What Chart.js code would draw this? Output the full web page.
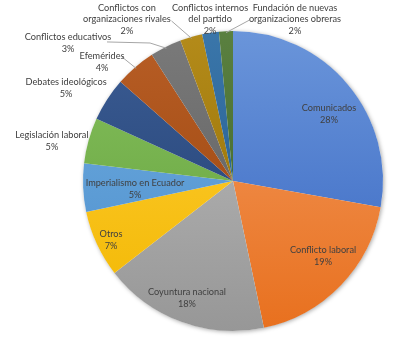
<!DOCTYPE html>
<html>
<head>
<meta charset="utf-8">
<script src="https://cdn.jsdelivr.net/npm/chart.js@4/dist/chart.umd.min.js"></script>
<style>
  html, body { margin: 0; padding: 0; background: #fff; }
  #wrap { width: 413px; height: 362px; position: relative; }
</style>
</head>
<body>
<div id="wrap"><canvas id="pie-chart"></canvas></div>
<script>
// categories, share of items (%)
var categories = ["Comunicados", "Conflicto laboral", "Coyuntura nacional", "Otros",
  "Imperialismo en Ecuador", "Legislación laboral", "Debates ideológicos", "Efemérides",
  "Conflictos educativos", "Conflictos con organizaciones rivales",
  "Conflictos internos del partido", "Fundación de nuevas organizaciones obreras"];
var values = [27.8, 18.9, 17.8, 7.2, 5.2, 4.9, 4.7, 4.4, 3.4, 2.4, 1.8, 1.5];
var pctLabels = ["28%", "19%", "18%", "7%", "5%", "5%", "5%", "4%", "3%", "2%", "2%", "2%"];

// label text lines as in the picture
var labelLines = [
  ["Comunicados"], ["Conflicto laboral"], ["Coyuntura nacional"], ["Otros"],
  ["Imperialismo en Ecuador"], ["Legislación laboral"], ["Debates ideológicos"], ["Efemérides"],
  ["Conflictos educativos"], ["Conflictos con", "organizaciones rivales"],
  ["Conflictos internos", "del partido"], ["Fundación de nuevas", "organizaciones obreras"]
];

var colors = [
  ["#6a95da", "#3766c2"], ["#f39c62", "#e8701e"], ["#bdbdbd", "#979797"], ["#ffcf3a", "#f2b700"],
  ["#72aee0", "#4a8dcc"], ["#86c05e", "#62a03a"], ["#3c5d94", "#1f3d70"], ["#b85e26", "#974209"],
  ["#7a7a7a", "#5a5a5a"], ["#b48b1a", "#8e6a00"], ["#3a76aa", "#1f5687"], ["#5a8040", "#3c6024"]
];

// label placement, in units of the pie radius, relative to the centre
var labelPos = [
  [0.64, -0.447], [0.6, 0.5], [-0.307, 0.78], [-0.813, 0.393],
  [-0.653, 0.053], [-1.207, -0.267], [-1.113, -0.62], [-0.873, -0.793],
  [-1.1, -0.92], [-0.707, -1.077], [-0.153, -1.077], [0.413, -1.077]
];
// leader lines: start point (radius units) and optional elbow
var leaders = {
  7: [[-0.74, -0.827]],
  8: [[-0.84, -0.927], [-0.553, -0.92]],
  9: [[-0.41, -1.067]],
  11: [[0.11, -1.073]]
};

function sliceGradient(ctx, i) {
  var chart = ctx.chart;
  var area = chart.chartArea;
  if (!area) return colors[i][1];
  var g = chart.ctx.createLinearGradient(0, area.top, 0, area.bottom);
  g.addColorStop(0, colors[i][0]);
  g.addColorStop(1, colors[i][1]);
  return g;
}

var pieShadow = {
  id: 'pieShadow',
  beforeDatasetsDraw: function(chart) {
    var arc = chart.getDatasetMeta(0).data[0];
    if (!arc) return;
    var c = chart.ctx;
    c.save();
    c.shadowColor = 'rgba(0,0,0,0.35)';
    c.shadowBlur = 4;
    c.shadowOffsetX = 1;
    c.shadowOffsetY = 1;
    c.beginPath();
    c.arc(arc.x, arc.y, arc.outerRadius, 0, Math.PI * 2);
    c.fillStyle = '#fff';
    c.fill();
    c.restore();
  }
};

var sliceLabels = {
  id: 'sliceLabels',
  afterDatasetsDraw: function(chart) {
    var meta = chart.getDatasetMeta(0);
    var c = chart.ctx;
    var first = meta.data[0];
    var cx = first.x, cy = first.y, r = first.outerRadius;
    c.save();
    // leader lines
    c.strokeStyle = '#a6a6a6';
    c.lineWidth = 1;
    for (var k in leaders) {
      var a = meta.data[k];
      var mid = (a.startAngle + a.endAngle) / 2;
      var pts = leaders[k];
      c.beginPath();
      c.moveTo(cx + pts[0][0] * r, cy + pts[0][1] * r);
      for (var p = 1; p < pts.length; p++) c.lineTo(cx + pts[p][0] * r, cy + pts[p][1] * r);
      c.lineTo(cx + Math.cos(mid) * r * 0.99, cy + Math.sin(mid) * r * 0.99);
      c.stroke();
    }
    // texts
    c.font = '9.2px Lato, "Liberation Sans", sans-serif';
    c.fillStyle = '#404040';
    c.textAlign = 'center';
    c.textBaseline = 'middle';
    var lh = 11.5;
    for (var i = 0; i < categories.length; i++) {
      var lines = labelLines[i].concat([pctLabels[i]]);
      var x = cx + labelPos[i][0] * r;
      var y = cy + labelPos[i][1] * r - (lines.length - 1) * lh / 2;
      for (var j = 0; j < lines.length; j++) c.fillText(lines[j], x, y + j * lh);
    }
    c.restore();
  }
};

new Chart(document.getElementById("pie-chart"), {
  type: 'pie',
  data: {
    labels: categories,
    datasets: [{
      data: values,
      backgroundColor: function(ctx) { return sliceGradient(ctx, ctx.dataIndex); },
      borderWidth: 0
    }]
  },
  options: {
    responsive: true,
    maintainAspectRatio: false,
    animation: false,
    layout: { padding: { left: 83, right: 30, top: 31, bottom: 31 } },
    plugins: {
      legend: { display: false },
      tooltip: { enabled: false }
    }
  },
  plugins: [pieShadow, sliceLabels]
});
</script>
</body>
</html>
